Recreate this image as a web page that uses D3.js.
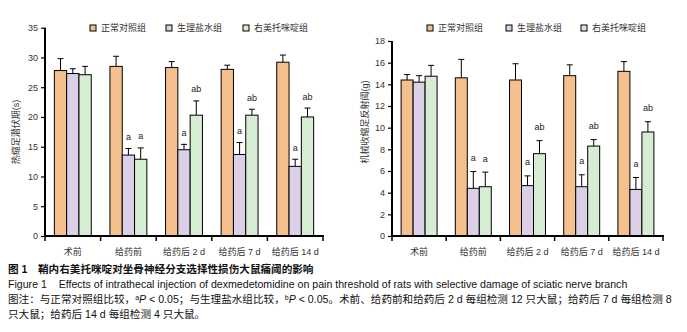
<!DOCTYPE html>
<html lang="zh">
<head>
    <meta charset="UTF-8">
    <title>Figure 1</title>
    <script src="https://cdn.jsdelivr.net/npm/d3@7"></script>
    <style>
        body { margin: 0; background: white; }
        text { font-family: "Liberation Sans", Arial, "Noto Sans CJK SC", sans-serif; }
        .bar { stroke: black; stroke-width: 1; }
        .axis path, .axis line { stroke: black; }
        .pre { white-space: pre; }
    </style>
</head>
<body>

<script>
    const width = 687, height = 332;

    // categories and groups
    const categories = ["术前", "给药前", "给药后 2 d", "给药后 7 d", "给药后 14 d"];
    const groups = ["正常对照组", "生理盐水组", "右美托咪啶组"];
    const colors = ["#f4c08e", "#dccfe8", "#d6edd3"];

    // thermal withdrawal latency (s): mean and error per group
    const heatNormal   = [27.8, 28.5, 28.3, 28.0, 29.2];
    const heatSaline   = [27.3, 13.6, 14.5, 13.7, 11.7];
    const heatDex      = [27.1, 12.9, 20.3, 20.3, 20.0];
    const heatNormalErr = [2.0, 1.7, 1.0, 0.7, 1.2];
    const heatSalineErr = [0.8, 1.1, 0.9, 2.0, 1.2];
    const heatDexErr    = [1.4, 1.9, 2.4, 1.0, 1.5];

    // mechanical withdrawal threshold (g)
    const mechNormal   = [14.4, 14.6, 14.4, 14.8, 15.2];
    const mechSaline   = [14.2, 4.4, 4.65, 4.55, 4.3];
    const mechDex      = [14.75, 4.55, 7.6, 8.3, 9.6];
    const mechNormalErr = [0.5, 1.7, 1.5, 1.0, 0.9];
    const mechSalineErr = [0.6, 1.55, 0.9, 1.1, 1.1];
    const mechDexErr    = [1.0, 1.35, 1.2, 0.6, 0.95];

    // significance marks
    const marksNormal = ["", "", "", "", ""];
    const marksSaline = ["", "a", "a", "a", "a"];
    const marksDex    = ["", "a", "ab", "ab", "ab"];

    const heatTicks = [0, 5, 10, 15, 20, 25, 30, 35];
    const mechTicks = [0, 2, 4, 6, 8, 10, 12, 14, 16, 18];

    const captionLines = [
        "图 1　鞘内右美托咪啶对坐骨神经分支选择性损伤大鼠痛阈的影响",
        "Figure 1    Effects of intrathecal injection of dexmedetomidine on pain threshold of rats with selective damage of sciatic nerve branch"
    ];

    const svg = d3.select("body").append("svg")
        .attr("width", width)
        .attr("height", height);

    function panel(opt) {
        const g = svg.append("g");
        const x = d3.scaleBand().domain(categories).range([opt.x0, opt.x1]);
        const xi = d3.scaleBand().domain(groups).range([0, x.bandwidth()]).paddingOuter(0.76);
        const y = d3.scaleLinear().domain([0, opt.max]).range([236, opt.top]);

        const rows = [];
        categories.forEach((c, i) => {
            groups.forEach((s, j) => {
                rows.push({ c: c, s: s, v: opt.means[j][i], e: opt.errs[j][i], m: opt.marks[j][i], color: colors[j] });
            });
        });

        // error bars
        const cap = 3;
        const eg = g.append("g").attr("stroke", "black").attr("stroke-width", 1);
        rows.forEach(d => {
            const cx = x(d.c) + xi(d.s) + xi.bandwidth() / 2;
            eg.append("line").attr("x1", cx).attr("x2", cx).attr("y1", y(d.v)).attr("y2", y(d.v + d.e));
            eg.append("line").attr("x1", cx - cap).attr("x2", cx + cap).attr("y1", y(d.v + d.e)).attr("y2", y(d.v + d.e));
        });

        g.selectAll("rect.bar")
            .data(rows)
            .join("rect").attr("class", "bar")
            .attr("x", d => x(d.c) + xi(d.s))
            .attr("y", d => y(d.v))
            .attr("width", xi.bandwidth())
            .attr("height", d => y(0) - y(d.v))
            .attr("fill", d => d.color);

        g.selectAll("text.mark")
            .data(rows.filter(d => d.m))
            .join("text").attr("class", "mark")
            .attr("x", d => x(d.c) + xi(d.s) + xi.bandwidth() / 2)
            .attr("y", d => y(d.v + d.e) - opt.markGap)
            .attr("text-anchor", "middle")
            .attr("font-size", 9)
            .attr("fill", "#222")
            .text(d => d.m);

        // y axis
        const ya = g.append("g").attr("class", "axis")
            .attr("transform", `translate(${opt.x0},0)`)
            .call(d3.axisLeft(y).tickValues(opt.ticks).tickSize(4).tickPadding(3));
        ya.select(".domain").attr("stroke-width", 2).attr("d", `M0,${y(0) + 1}V${y(opt.max)}`);
        ya.selectAll(".tick line").attr("stroke-width", 1.2);
        ya.selectAll("text").attr("font-size", 9).attr("fill", "#333")
            .style("font-family", "'Liberation Sans', Arial, sans-serif");

        // x axis: ticks at group boundaries
        const xa = g.append("g").attr("class", "axis");
        xa.append("line").attr("x1", opt.x0 - 1).attr("x2", opt.x1 + 1).attr("y1", y(0)).attr("y2", y(0))
            .attr("stroke", "black").attr("stroke-width", 2);
        const bounds = categories.map(c => x(c)).concat([opt.x1]);
        xa.selectAll("line.t").data(bounds).join("line").attr("class", "t")
            .attr("x1", d => d).attr("x2", d => d).attr("y1", y(0)).attr("y2", y(0) + 5)
            .attr("stroke", "black").attr("stroke-width", 1.5);
        xa.selectAll("text").data(categories).join("text")
            .attr("x", d => x(d) + x.bandwidth() / 2)
            .attr("y", 254.5)
            .attr("text-anchor", "middle")
            .attr("font-size", 9)
            .attr("fill", "#333")
            .text(d => d);

        // y title
        g.append("text")
            .attr("transform", `translate(${opt.titleX},${opt.titleY}) rotate(-90)`)
            .attr("text-anchor", "middle")
            .attr("dy", "0.35em")
            .attr("font-size", 9)
            .attr("fill", "#333")
            .text(opt.title);

        // legend
        const lg = g.append("g");
        groups.forEach((s, j) => {
            lg.append("rect")
                .attr("x", opt.legendX[j]).attr("y", opt.legendY - 3)
                .attr("width", 6).attr("height", 6)
                .attr("fill", colors[j]).attr("stroke", "black").attr("stroke-width", 1);
            lg.append("text")
                .attr("x", opt.legendX[j] + 11).attr("y", opt.legendY)
                .attr("dy", "0.35em")
                .attr("font-size", 9)
                .attr("fill", "#333")
                .text(s);
        });
    }

    panel({
        x0: 45, x1: 323, top: 27.7, max: 35, ticks: heatTicks,
        means: [heatNormal, heatSaline, heatDex],
        errs: [heatNormalErr, heatSalineErr, heatDexErr],
        marks: [marksNormal, marksSaline, marksDex],
        markGap: 8.5,
        title: "热缩足潜伏期(s)", titleX: 16, titleY: 132,
        legendX: [90, 166, 243], legendY: 28
    });

    panel({
        x0: 392, x1: 663, top: 41, max: 18, ticks: mechTicks,
        means: [mechNormal, mechSaline, mechDex],
        errs: [mechNormalErr, mechSalineErr, mechDexErr],
        marks: [marksNormal, marksSaline, marksDex],
        markGap: 10.5,
        title: "机械收缩足反射阈(g)", titleX: 365, titleY: 122,
        legendX: [427, 506, 581], legendY: 28
    });

    // caption
    const cap = svg.append("g").attr("font-size", 10.6).attr("fill", "#111");
    cap.append("text").attr("class", "pre").attr("x", 8).attr("y", 273).attr("font-weight", "bold").text(captionLines[0]);
    cap.append("text").attr("class", "pre").attr("x", 8).attr("y", 288).text(captionLines[1]);
    const note = cap.append("text").attr("x", 8).attr("y", 303);
    note.append("tspan").text("图注：与正常对照组比较，");
    note.append("tspan").attr("font-size", 7).attr("dy", -3.5).text("a");
    note.append("tspan").attr("font-style", "italic").attr("dy", 3.5).text("P");
    note.append("tspan").text(" < 0.05；与生理盐水组比较，");
    note.append("tspan").attr("font-size", 7).attr("dy", -3.5).text("b");
    note.append("tspan").attr("font-style", "italic").attr("dy", 3.5).text("P");
    note.append("tspan").text(" < 0.05。术前、给药前和给药后 2 d 每组检测 12 只大鼠；给药后 7 d 每组检测 8");
    cap.append("text").attr("x", 8).attr("y", 318).text("只大鼠；给药后 14 d 每组检测 4 只大鼠。");
</script>

</body>
</html>
